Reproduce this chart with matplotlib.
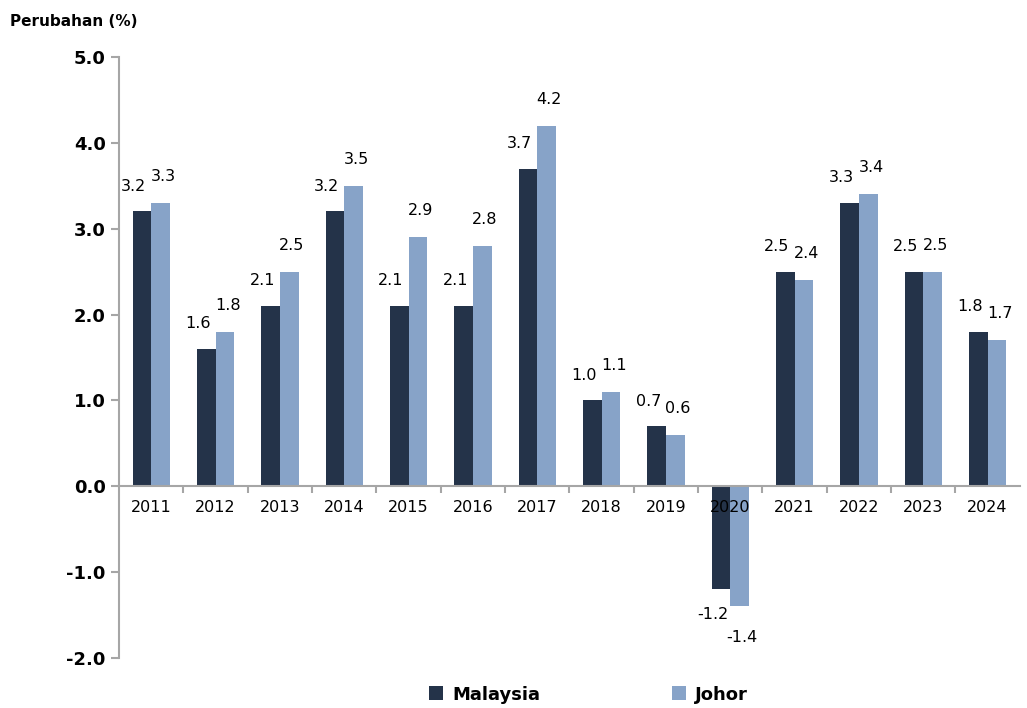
import numpy as np
import matplotlib.pyplot as plt

years = ['2011', '2012', '2013', '2014', '2015', '2016', '2017',
         '2018', '2019', '2020', '2021', '2022', '2023', '2024']
malaysia = [3.2, 1.6, 2.1, 3.2, 2.1, 2.1, 3.7, 1.0, 0.7, -1.2, 2.5, 3.3, 2.5, 1.8]
johor = [3.3, 1.8, 2.5, 3.5, 2.9, 2.8, 4.2, 1.1, 0.6, -1.4, 2.4, 3.4, 2.5, 1.7]

dark = '#243349'
light = '#87a3c8'
grey = '#a6a6a6'

fig = plt.figure(figsize=(10.27, 7.08), dpi=100)
ax = fig.add_axes([0.1159, 0.0706, 0.877, 0.849])

x = np.arange(len(years))
w = 0.29
ax.bar(x - w / 2, malaysia, w, color=dark, label='Malaysia')
ax.bar(x + w / 2, johor, w, color=light, label='Johor')

for xi, v in zip(x - w / 2, malaysia):
    off = 18 if v >= 0 else -18
    ax.annotate(f'{v:.1f}', (xi, v), xytext=(-6, off), textcoords='offset points',
                ha='center', va='center', fontsize=11.5)
for xi, v in zip(x + w / 2, johor):
    off = 19 if v >= 0 else -22
    ax.annotate(f'{v:.1f}', (xi, v), xytext=(2, off), textcoords='offset points',
                ha='center', va='center', fontsize=11.5)

ax.set_xlim(-0.5, len(years) - 0.5)
ax.set_ylim(-2.0, 5.0)
ax.set_yticks(np.arange(-2.0, 5.01, 1.0))
ax.set_yticklabels([f'{t:.1f}' for t in np.arange(-2.0, 5.01, 1.0)],
                   fontsize=13, fontweight='bold')

# years under the zero line, ticks between the groups
ax.set_xticks(np.arange(0.5, len(years) - 0.5, 1.0))
ax.set_xticklabels([])
for xi, yr in zip(x, years):
    ax.text(xi, -0.25, yr, ha='center', va='center', fontsize=11.5)

for s in ['top', 'right']:
    ax.spines[s].set_visible(False)
ax.spines['left'].set_color(grey)
ax.spines['left'].set_linewidth(1.5)
ax.spines['bottom'].set_position(('data', 0))
ax.spines['bottom'].set_color(grey)
ax.spines['bottom'].set_linewidth(1.5)
ax.tick_params(axis='y', colors=grey, labelcolor='black', length=6, width=1.5)
ax.tick_params(axis='x', colors=grey, length=5, width=1.5)

fig.text(0.01, 0.97, 'Perubahan (%)', fontsize=11, fontweight='bold', va='center')

fig.legend(loc='center', bbox_to_anchor=(0.573, 0.019), ncol=2, frameon=False,
           prop={'size': 13, 'weight': 'bold'}, columnspacing=7.3,
           handlelength=0.8, handleheight=0.8, handletextpad=0.5)

fig.savefig('out.png', dpi=100)
